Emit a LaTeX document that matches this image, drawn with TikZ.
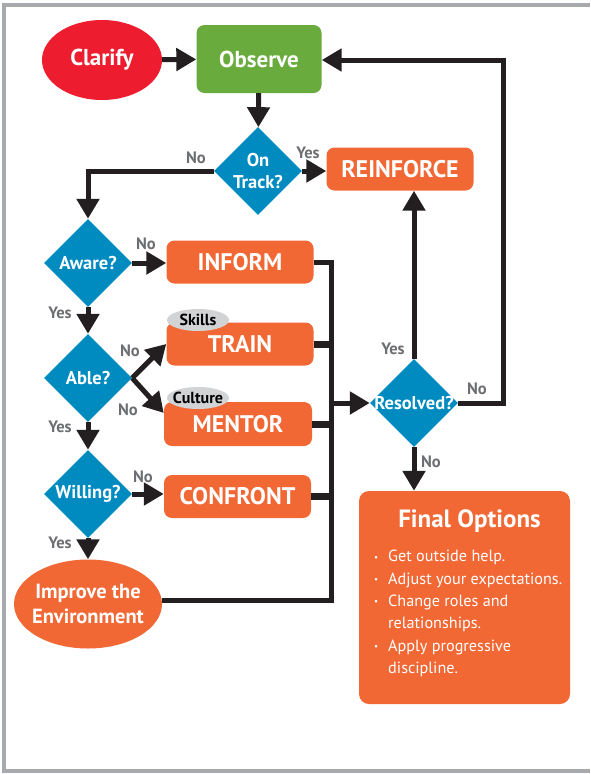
\documentclass[tikz,border=0pt]{standalone}
\usepackage{fontspec}
\setmainfont{PT Sans}
\usetikzlibrary{shapes.geometric,arrows.meta}
\definecolor{clarred}{HTML}{ED1C2E}
\definecolor{obsgreen}{HTML}{6AAB3D}
\definecolor{decblue}{HTML}{008BC0}
\definecolor{actorange}{HTML}{F26835}
\definecolor{lblgray}{HTML}{6D6E71}
\definecolor{taggray}{HTML}{D1D3D4}
\definecolor{linedark}{HTML}{231F20}
\definecolor{framegray}{HTML}{A7A9AC}
\tikzset{
  flowline/.style={line width=5pt, draw=linedark},
  flowarrow/.style={flowline, -{Triangle[length=20pt,width=22pt]}},
  stubline/.style={line width=7pt, draw=linedark},
  actionbox/.style={rectangle, rounded corners=8pt, fill=actorange, text=white,
    font=\bfseries\fontsize{24}{28}\selectfont, minimum width=147pt,
    minimum height=43pt, inner sep=0pt},
  decision/.style={diamond, fill=decblue, text=white, align=center,
    font=\bfseries\fontsize{18.5}{22}\selectfont, minimum width=88pt,
    minimum height=88pt, inner sep=-4pt},
  tagshape/.style={ellipse, fill=taggray, text=black,
    font=\bfseries\fontsize{16}{18}\selectfont, minimum width=62pt,
    minimum height=22pt, inner xsep=-5pt, inner ysep=0pt},
  answer/.style={text=lblgray, font=\bfseries\fontsize{16.5}{18}\selectfont, inner sep=0pt}
}
\begin{document}
\begin{tikzpicture}[x=1pt, y=-1pt]
  \useasboundingbox (0,0) rectangle (590,774);
  \draw [framegray, line width=3.5pt] (590,5) -- (4,5) -- (4,771) -- (590,771);
  \node [ellipse, fill=clarred, text=white, font=\bfseries\fontsize{23}{26}\selectfont,
    minimum width=120pt, minimum height=80pt, inner sep=0pt] (clar) at (102,60) {Clarify};
  \node [actionbox, fill=obsgreen, minimum width=125pt, minimum height=68pt,
    font=\bfseries\fontsize{23}{26}\selectfont] (obs) at (259,59) {Observe};
  \node [decision] (ont) at (258,171) {On\\Track?};
  \node [actionbox] (reinf) at (400,169) {REINFORCE};
  \node [decision] (aware) at (88,263) {Aware?};
  \node [actionbox] (inform) at (240,262) {INFORM};
  \node [decision] (able) at (88,378) {Able?};
  \node [actionbox] (train) at (240,344) {TRAIN};
  \node [tagshape] (skills) at (198,320) {Skills};
  \node [actionbox, minimum width=148pt, minimum height=44pt] (mentor) at (238,424) {MENTOR};
  \node [tagshape] (culture) at (198,398) {Culture};
  \node [decision] (will) at (88,494) {Willing?};
  \node [actionbox] (conf) at (237.5,496.5) {CONFRONT};
  \node [ellipse, fill=actorange, text=white, align=center,
    font=\bfseries\fontsize{20.5}{25}\selectfont, minimum width=148pt,
    minimum height=89pt, inner xsep=-6pt, inner ysep=0pt] (imp) at (88,604) {Improve the\\Environment};
  \node [decision, inner sep=-5pt] (res) at (414,403) {Resolved?};
  \node [rectangle, rounded corners=10pt, fill=actorange, minimum width=211pt,
    minimum height=213pt, inner sep=0pt] (final) at (464.5,597.5) {};
  \node [anchor=base, text=white, font=\bfseries\fontsize{25}{28}\selectfont,
    inner sep=0pt] (finaltitle) at (469.5,527) {Final Options};
  \node [anchor=north west, text=white, inner sep=0pt, font=\fontsize{16.2}{22.3}\selectfont]
    (finallist) at (373,546) {%
    \begin{tabular}{@{}l@{}l@{}}
      \makebox[15pt][l]{\hspace{1pt}\raisebox{1.5pt}{\fontsize{9}{9}\selectfont\textbullet}} & Get outside help.\\
      \makebox[15pt][l]{\hspace{1pt}\raisebox{1.5pt}{\fontsize{9}{9}\selectfont\textbullet}} & Adjust your expectations.\\
      \makebox[15pt][l]{\hspace{1pt}\raisebox{1.5pt}{\fontsize{9}{9}\selectfont\textbullet}} & Change roles and\\
       & relationships.\\
      \makebox[15pt][l]{\hspace{1pt}\raisebox{1.5pt}{\fontsize{9}{9}\selectfont\textbullet}} & Apply progressive\\
       & discipline.
    \end{tabular}};
  \node [answer] (ontno) at (196,158) {No};
  \node [answer] (ontyes) at (308,153) {Yes};
  \node [answer] (awareno) at (146,244) {No};
  \node [answer] (awareyes) at (60,313) {Yes};
  \node [answer] (ableno1) at (130,351) {No};
  \node [answer] (ableno2) at (128,410) {No};
  \node [answer] (ableyes) at (60,427) {Yes};
  \node [answer] (willno) at (143,477) {No};
  \node [answer] (willyes) at (60,543) {Yes};
  \node [answer] (resyes) at (393,349) {Yes};
  \node [answer] (resno1) at (477,389) {No};
  \node [answer] (resno2) at (431,462) {No};
  \coordinate (bus) at (331,600);
  \coordinate (loop) at (503,60);
  \draw [flowarrow] (clar) -- (obs);
  \draw [flowarrow] (obs) -- (ont);
  \draw [flowarrow] (ont.east) -- (ont.east -| reinf.west);
  \draw [flowarrow] (ont.west) -| (aware.north);
  \draw [flowarrow] (aware.east) -- (aware.east -| inform.west);
  \draw [flowarrow] (aware) -- (able);
  \draw [flowarrow] (able.east) -- (train.west);
  \draw [flowarrow] (able.east) -- ([yshift=11pt]mentor.west);
  \draw [flowarrow] (able) -- (will);
  \draw [flowarrow] (will.east) -- (will.east -| conf.west);
  \draw [flowarrow] (will) -- (imp);
  \draw [flowline] (inform.east) -| (bus) -- (bus -| imp.east);
  \draw [stubline] (train.east) -- (train.east -| bus);
  \draw [stubline] (mentor.east) -- (mentor.east -| bus);
  \draw [stubline] (conf.east) -- (conf.east -| bus);
  \draw [flowarrow] (bus |- res.west) -- (res.west);
  \draw [flowarrow] (res) -- (res |- reinf.south);
  \draw [flowarrow] (res.east) -| (loop) -- (loop -| obs.east);
  \draw [flowarrow] (res) -- (res |- final.north);
\end{tikzpicture}
\end{document}
